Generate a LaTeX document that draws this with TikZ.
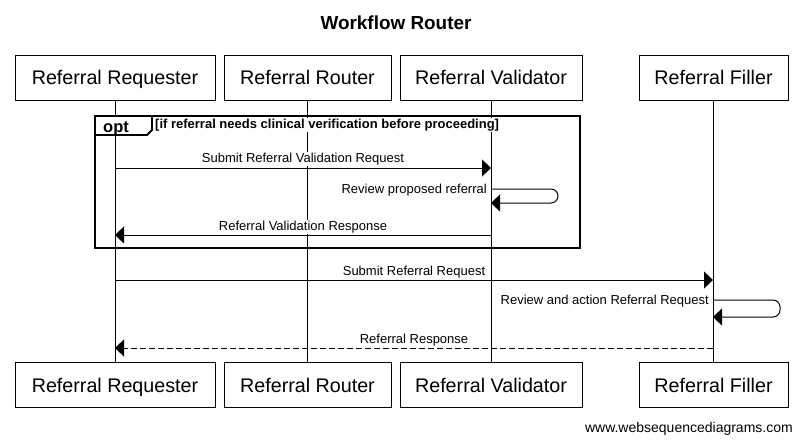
\documentclass[tikz,border=0pt]{standalone}
\usepackage{fontspec}
\setmainfont{Liberation Sans}
\usetikzlibrary{arrows.meta}
\begin{document}
\begin{tikzpicture}[x=1pt,y=-1pt,
  part/.style={draw,line width=1pt,minimum height=45pt,inner sep=0pt,text height=14pt,text depth=0pt,font=\fontsize{19.7}{22}\selectfont},
  life/.style={line width=1pt},
  msg/.style={line width=1pt,-{Triangle[length=9pt,width=17pt]}},
  rmsg/.style={msg,dash pattern=on 6pt off 3pt},
  selfmsg/.style={msg,rounded corners=7pt},
  lbl/.style={fill=white,inner sep=1pt,font=\fontsize{13}{15}\selectfont},
  frm/.style={line width=1.8pt}]
\useasboundingbox (0,0) rectangle (802,445);
% title
\node[font=\fontsize{18.9}{22}\selectfont\bfseries] (title) at (396,23) {Workflow Router};
% participants
\node[part,minimum width=200pt] (t1) at (115,77.5) {Referral Requester};
\node[part,minimum width=167pt] (t2) at (307.5,77.5) {Referral Router};
\node[part,minimum width=182pt] (t3) at (491,77.5) {Referral Validator};
\node[part,minimum width=149pt] (t4) at (713.5,77.5) {Referral Filler};
\node[part,minimum width=200pt] (b1) at (115,385) {Referral Requester};
\node[part,minimum width=167pt] (b2) at (307.5,385) {Referral Router};
\node[part,minimum width=182pt] (b3) at (491,385) {Referral Validator};
\node[part,minimum width=149pt] (b4) at (713.5,385) {Referral Filler};
% lifelines
\draw[life] (t1.south) -- (b1.north);
\draw[life] (t2.south) -- (b2.north);
\draw[life] (t3.south) -- (b3.north);
\draw[life] (t4.south) -- (b4.north);
% opt frame
\draw[frm] (95,116) rectangle (580,248);
\filldraw[frm,fill=white] (95,116) -- (152,116) -- (152,130) -- (147,135) -- (95,135) -- cycle;
\node[font=\fontsize{16.5}{18}\selectfont\bfseries,inner sep=0pt,anchor=base] (opt) at (116,132) {opt};
\node[fill=white,inner sep=1pt,anchor=west,font=\fontsize{13}{15}\selectfont\bfseries] (cond) at (154,125) {[if referral needs clinical verification before proceeding]};
% coordinates on lifelines
\coordinate (m1a) at (115,168);
\coordinate (m1b) at (491,168);
\coordinate (s1a) at (491,189);
\coordinate (s1r) at (558,189);
\coordinate (s1s) at (558,203);
\coordinate (s1b) at (491,203);
\coordinate (m3a) at (491,235);
\coordinate (m3b) at (115,235);
\coordinate (m4a) at (115,280);
\coordinate (m4b) at (713,280);
\coordinate (s2a) at (713,300);
\coordinate (s2r) at (780,300);
\coordinate (s2s) at (780,317);
\coordinate (s2b) at (713,317);
\coordinate (m6a) at (713,348);
\coordinate (m6b) at (115,348);
% messages
\draw[msg] (m1a) -- (m1b);
\node[lbl] (l1) at (303,159) {Submit Referral Validation Request};
\draw[selfmsg] (s1a) -- (s1r) -- (s1s) -- (s1b);
\node[lbl,anchor=east] (l2) at (488,190) {Review proposed referral};
\draw[msg] (m3a) -- (m3b);
\node[lbl] (l3) at (303,227) {Referral Validation Response};
\draw[msg] (m4a) -- (m4b);
\node[lbl] (l4) at (414,272) {Submit Referral Request};
\draw[selfmsg] (s2a) -- (s2r) -- (s2s) -- (s2b);
\node[lbl,anchor=east] (l5) at (710,301) {Review and action Referral Request};
\draw[rmsg] (m6a) -- (m6b);
\node[lbl] (l6) at (414,340) {Referral Response};
% footer
\node[anchor=east,inner sep=0pt,font=\fontsize{14}{16}\selectfont] (foot) at (793,429) {www.websequencediagrams.com};
\end{tikzpicture}
\end{document}
